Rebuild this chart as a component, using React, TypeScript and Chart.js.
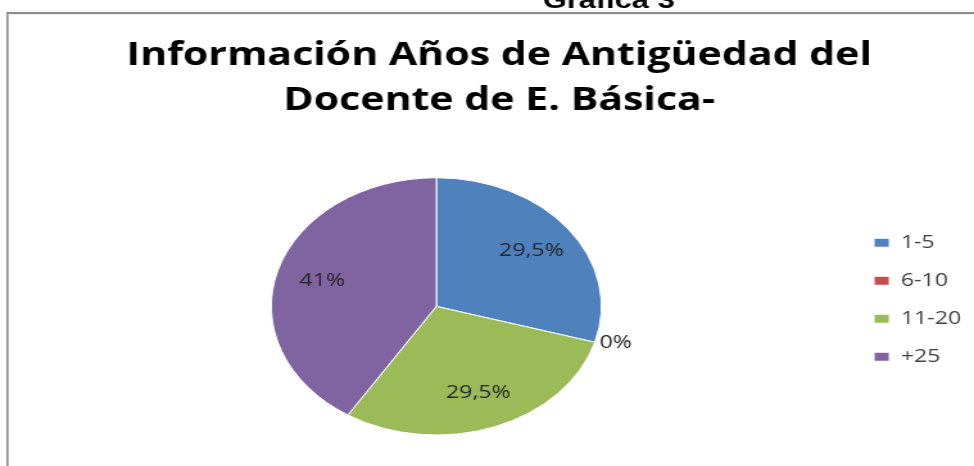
import React, { useEffect, useRef } from 'react';
import { Chart, registerables } from 'chart.js';

Chart.register(...registerables);

// ---- data ----
const categories = ['1-5', '6-10', '11-20', '+25'];
const percentages = [29.5, 0, 29.5, 41];
const sliceColors = ['#4F81BD', '#C0504D', '#9BBB59', '#8064A2'];
const titleLines = ['Información Años de Antigüedad del', 'Docente de E. Básica-'];
const captionText = 'Gráfica 3';

// the reference is a horizontally stretched picture; draw on a narrower canvas and stretch it
const STRETCH = 1.2833;
const PAGE_W = 974;
const PAGE_H = 466;
const CANVAS_W = Math.round(PAGE_W / STRETCH);

function fmtPct(v: number): string {
  return String(v).replace('.', ',') + '%';
}

const framePlugin = {
  id: 'frame',
  beforeDraw(chart: any) {
    const { ctx, width, height } = chart;
    ctx.save();
    ctx.fillStyle = '#ffffff';
    ctx.fillRect(0, 0, width, height);
    ctx.fillStyle = '#8c8c8c';
    ctx.fillRect(5, 12, width, 2);
    ctx.fillRect(5, 12, 1.6, height);
    ctx.fillStyle = '#ededed';
    ctx.fillRect(6.6, 14, width, 1);
    ctx.fillStyle = '#000000';
    ctx.font = 'bold 24px "Liberation Sans", Arial, sans-serif';
    ctx.textBaseline = 'alphabetic';
    ctx.textAlign = 'left';
    ctx.fillText(captionText, 423, 8);
    ctx.restore();
  },
};

const sliceLabelPlugin = {
  id: 'sliceLabels',
  afterDatasetsDraw(chart: any) {
    const { ctx } = chart;
    const meta = chart.getDatasetMeta(0);
    const values = chart.data.datasets[0].data as number[];
    ctx.save();
    ctx.font = '18px "Open Sans", sans-serif';
    ctx.fillStyle = '#262626';
    ctx.textBaseline = 'middle';
    meta.data.forEach((arc: any, i: number) => {
      const { x, y, startAngle, endAngle, outerRadius } = arc.getProps(
        ['x', 'y', 'startAngle', 'endAngle', 'outerRadius'],
        true
      );
      const mid = (startAngle + endAngle) / 2;
      const v = values[i];
      let r: number;
      if (v > 0) {
        r = outerRadius * 0.72;
        ctx.textAlign = 'center';
      } else {
        r = outerRadius * 1.03;
        ctx.textAlign = 'left';
      }
      ctx.fillText(fmtPct(v), x + Math.cos(mid) * r, y + Math.sin(mid) * r);
    });
    ctx.restore();
  },
};

export default function App() {
  const canvasRef = useRef<HTMLCanvasElement | null>(null);

  useEffect(() => {
    if (!canvasRef.current) return;
    const chart = new Chart(canvasRef.current, {
      type: 'pie',
      data: {
        labels: categories,
        datasets: [
          {
            data: percentages,
            backgroundColor: sliceColors,
            borderColor: '#ffffff',
            borderWidth: 1,
          },
        ],
      },
      options: {
        responsive: false,
        animation: false,
        devicePixelRatio: 1,
        layout: { padding: { left: 19, right: 0, top: 0, bottom: 30.5 } },
        plugins: {
          title: {
            display: true,
            text: titleLines,
            color: '#000000',
            font: { family: '"Open Sans", sans-serif', size: 32, weight: 'bold', lineHeight: 1.41 },
            padding: { top: 33, bottom: 54 },
          },
          legend: {
            position: 'right',
            fullSize: false,
            align: 'start',
            title: {
              display: true,
              text: ' ',
              font: { size: 10, lineHeight: 1.2 },
              padding: { top: 24.5, bottom: 0 },
            },
            labels: {
              font: { family: '"Open Sans", sans-serif', size: 18 },
              color: '#404040',
              boxWidth: 12,
              boxHeight: 9,
              padding: 20,
            },
          },
          tooltip: { enabled: false },
        },
      },
      plugins: [framePlugin, sliceLabelPlugin],
    } as any);
    return () => chart.destroy();
  }, []);

  return (
    <div style={{ position: 'absolute', left: 0, top: 0, width: PAGE_W, height: PAGE_H, overflow: 'hidden', background: '#fff' }}>
      <canvas
        ref={canvasRef}
        width={CANVAS_W}
        height={PAGE_H}
        style={{ position: 'absolute', left: 0, top: 0, width: PAGE_W + 'px', height: PAGE_H + 'px' }}
      />
    </div>
  );
}
